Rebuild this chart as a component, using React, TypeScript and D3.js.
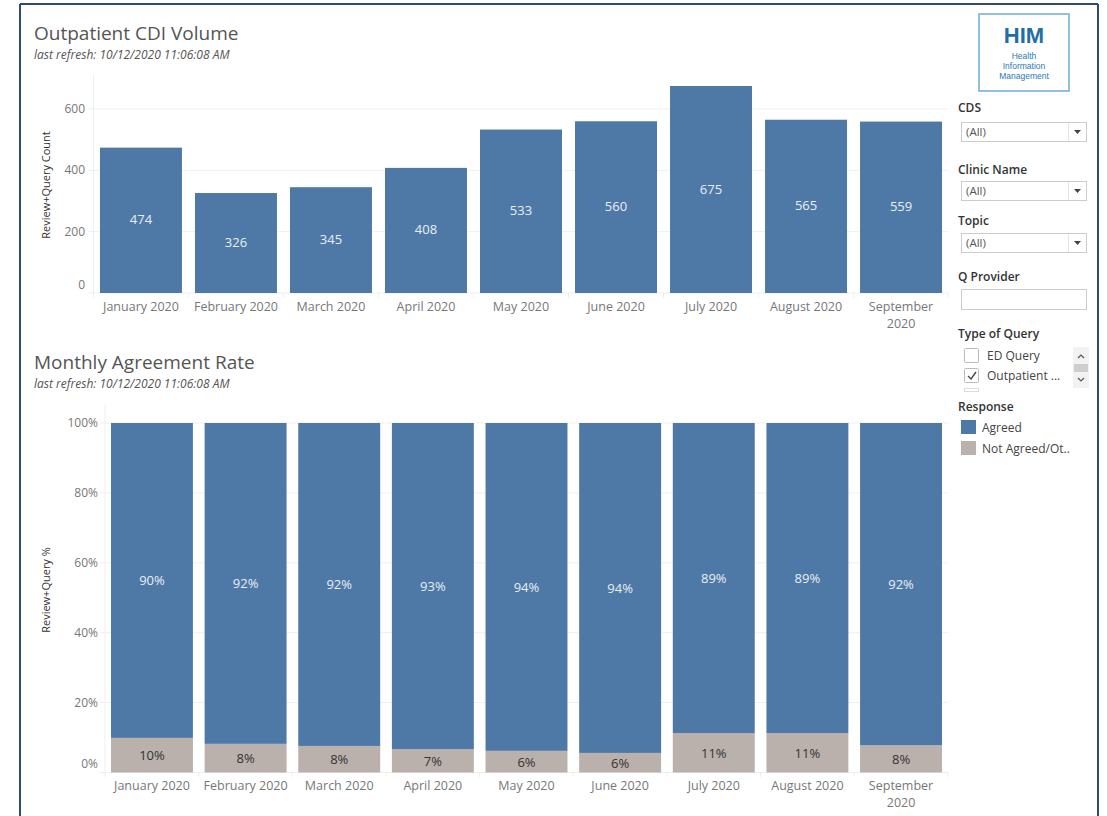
import React from "react";
import * as d3 from "d3";

const months = ["January 2020", "February 2020", "March 2020", "April 2020", "May 2020", "June 2020", "July 2020", "August 2020", "September 2020"];
const volume = [474, 326, 345, 408, 533, 560, 675, 565, 559];
const agreedPct = [90.1, 91.8, 92.4, 93.3, 93.8, 94.4, 88.7, 88.7, 92.2];
const notAgreedPct = [9.9, 8.2, 7.6, 6.7, 6.2, 5.6, 11.3, 11.3, 7.8];
const volumeTicks = [0, 200, 400, 600];
const pctTicks = [0, 20, 40, 60, 80, 100];
const filters = [
  { label: "CDS", value: "(All)" },
  { label: "Clinic Name", value: "(All)" },
  { label: "Topic", value: "(All)" },
];
const queryTypes = [
  { label: "ED Query", checked: false },
  { label: "Outpatient ...", checked: true },
];
const legendItems = ["Agreed", "Not Agreed/Ot.."];

const BLUE = "#4e79a7";
const GRAY = "#bab0ac";
const FONT = "'Open Sans', 'Noto Sans', sans-serif";
const TXT = "#555";
const TICK = "#777";
const GRID = "#efefef";

function wrapLabel(s: string): string[] {
  return s.startsWith("September") ? ["September", "2020"] : [s];
}

export default function App() {
  // Top chart
  const xTop = d3.scaleBand<string>().domain(months).range([93.5, 948.5]).paddingInner(0.137).paddingOuter(0.068);
  const yTop = d3.scaleLinear().domain([0, 600]).range([293, 109]);
  // Bottom chart
  const xBot = d3.scaleBand<string>().domain(months).range([105, 948]).paddingInner(0.125).paddingOuter(0.064);
  const yBot = d3.scaleLinear().domain([0, 100]).range([772.5, 423]);

  const stack = d3.stack<number>().keys(["na", "ag"]).value((i, k) => (k === "na" ? notAgreedPct[i] : agreedPct[i]));
  const series = stack(months.map((_, i) => i));

  const stepTop = xTop.step();
  const stepBot = xBot.step();

  return (
    <div style={{ position: "fixed", left: 0, top: 0 }}>
      <svg width={1107} height={816} style={{ display: "block", fontFamily: FONT }}>
        <rect x={0} y={0} width={1107} height={816} fill="#fff" />
        {/* frame */}
        <line x1={20} y1={4} x2={1098} y2={4} stroke="#2f4b6e" strokeWidth={2} />
        <line x1={20} y1={4} x2={20} y2={816} stroke="#2f4b6e" strokeWidth={2} />
        <line x1={1098} y1={4} x2={1098} y2={816} stroke="#2f4b6e" strokeWidth={2} />

        {/* Top title */}
        <text x={34} y={40} fontSize={19} fill={TXT}>Outpatient CDI Volume</text>
        <text x={34} y={59} fontSize={12} fontStyle="italic" fill={TXT}>last refresh: 10/12/2020 11:06:08 AM</text>

        {/* Top gridlines */}
        {volumeTicks.map((t) => (
          <g key={"vt" + t}>
            <line x1={88} x2={948.5} y1={yTop(t)} y2={yTop(t)} stroke={GRID} />
            <text x={85} y={t === 0 ? yTop(t) - 4 : yTop(t) + 4} textAnchor="end" fontSize={12} fill={TICK}>{t}</text>
          </g>
        ))}
        <line x1={93.5} x2={93.5} y1={75} y2={298} stroke={GRID} />
        {months.map((m, i) => (
          <line key={"tt" + m} x1={93.5 + stepTop * (i + 1)} x2={93.5 + stepTop * (i + 1)} y1={293} y2={298} stroke={GRID} />
        ))}
        <text transform={`translate(50,185) rotate(-90)`} textAnchor="middle" fontSize={11} fill="#333">Review+Query Count</text>
        {months.map((m, i) => (
          <g key={"vb" + m}>
            <rect x={xTop(m)} y={yTop(volume[i])} width={xTop.bandwidth()} height={yTop(0) - yTop(volume[i])} fill={BLUE} />
            <text x={xTop(m)! + xTop.bandwidth() / 2} y={(yTop(volume[i]) + yTop(0)) / 2 + 4} textAnchor="middle" fontSize={13} fill="#e9eef4">{volume[i]}</text>
            {wrapLabel(m).map((l, j) => (
              <text key={j} x={xTop(m)! + xTop.bandwidth() / 2} y={311 + j * 17} textAnchor="middle" fontSize={12.5} fill={TICK}>{l}</text>
            ))}
          </g>
        ))}

        {/* Bottom title */}
        <text x={34} y={369} fontSize={19} fill={TXT}>Monthly Agreement Rate</text>
        <text x={34} y={388} fontSize={12} fontStyle="italic" fill={TXT}>last refresh: 10/12/2020 11:06:08 AM</text>

        {pctTicks.map((t) => (
          <g key={"pt" + t}>
            <line x1={100} x2={948} y1={yBot(t)} y2={yBot(t)} stroke={GRID} />
            <text x={98} y={t === 0 ? yBot(t) - 5 : yBot(t) + 4} textAnchor="end" fontSize={12} fill={TICK}>{t}%</text>
          </g>
        ))}
        <line x1={105} x2={105} y1={405} y2={777} stroke={GRID} />
        {months.map((m, i) => (
          <line key={"bt" + m} x1={105 + stepBot * (i + 1)} x2={105 + stepBot * (i + 1)} y1={772.5} y2={777} stroke={GRID} />
        ))}
        <text transform={`translate(50,590) rotate(-90)`} textAnchor="middle" fontSize={11} fill="#333">Review+Query %</text>
        {series.map((s) => (
          <g key={s.key}>
            {s.map((d, i) => {
              const m = months[i];
              const y0 = yBot(d[0]);
              const y1 = yBot(d[1]);
              const val = s.key === "ag" ? agreedPct[i] : notAgreedPct[i];
              return (
                <g key={m}>
                  <rect x={xBot(m)} y={y1} width={xBot.bandwidth()} height={y0 - y1} fill={s.key === "ag" ? BLUE : GRAY} />
                  <text x={xBot(m)! + xBot.bandwidth() / 2} y={(y0 + y1) / 2 + 5} textAnchor="middle" fontSize={13} fill={s.key === "ag" ? "#e9eef4" : "#333"}>{Math.round(val)}%</text>
                </g>
              );
            })}
          </g>
        ))}
        {months.map((m) => (
          <g key={"bl" + m}>
            {wrapLabel(m).map((l, j) => (
              <text key={j} x={xBot(m)! + xBot.bandwidth() / 2} y={790 + j * 17} textAnchor="middle" fontSize={12.5} fill={TICK}>{l}</text>
            ))}
          </g>
        ))}

        {/* Right panel: logo */}
        <rect x={979} y={14} width={90} height={77} fill="#fff" stroke="#6aaed6" strokeWidth={1.5} />
        <text x={1024} y={43} textAnchor="middle" fontSize={22} fontWeight="bold" fill="#1f6fa6" fontFamily="'Liberation Sans', Arial, sans-serif">HIM</text>
        <text x={1024} y={59} textAnchor="middle" fontSize={8.5} fill="#2a7ab5" fontFamily="'Liberation Sans', Arial, sans-serif">Health</text>
        <text x={1024} y={69} textAnchor="middle" fontSize={8.5} fill="#2a7ab5" fontFamily="'Liberation Sans', Arial, sans-serif">Information</text>
        <text x={1024} y={79} textAnchor="middle" fontSize={8.5} fill="#2a7ab5" fontFamily="'Liberation Sans', Arial, sans-serif">Management</text>

        {filters.map((f, i) => {
          const ly = [112, 174, 225][i];
          const by = [122, 181, 233][i];
          return (
            <g key={f.label}>
              <text x={958} y={ly} fontSize={12} fontWeight={600} fill="#333">{f.label}</text>
              <rect x={961.5} y={by + 0.5} width={125} height={19} fill="#fff" stroke="#ccc" />
              <line x1={1068.5} x2={1068.5} y1={by + 1} y2={by + 19} stroke="#e3e3e3" />
              <text x={966} y={by + 14} fontSize={11.5} fill="#555">{f.value}</text>
              <path d={`M1074,${by + 8} L1081,${by + 8} L1077.5,${by + 12} Z`} fill="#444" />
            </g>
          );
        })}
        <text x={958} y={281} fontSize={12} fontWeight={600} fill="#333">Q Provider</text>
        <rect x={961.5} y={289.5} width={125} height={20} fill="#fff" stroke="#ccc" />

        <text x={958} y={338} fontSize={12} fontWeight={600} fill="#333">Type of Query</text>
        {queryTypes.map((q, i) => {
          const cy = 348 + i * 20;
          return (
            <g key={q.label}>
              <rect x={964.5} y={cy + 0.5} width={14} height={14} fill="#fff" stroke="#bbb" rx={1} />
              {q.checked && <path d={`M968,${cy + 8} L971,${cy + 11} L976,${cy + 4}`} fill="none" stroke="#444" strokeWidth={1.3} />}
              <text x={987} y={cy + 12} fontSize={12} fill="#444">{q.label}</text>
            </g>
          );
        })}
        <rect x={964.5} y={388.5} width={14} height={3} fill="#fff" stroke="#ddd" />
        <rect x={1073} y={347} width={16} height={41} fill="#f2f2f2" />
        <rect x={1074} y={364} width={14} height={8} fill="#cdcdcd" />
        <path d="M1078,358 L1081,355 L1084,358" fill="none" stroke="#555" strokeWidth={1.2} />
        <path d="M1078,378 L1081,381 L1084,378" fill="none" stroke="#555" strokeWidth={1.2} />

        <text x={958} y={411} fontSize={12} fontWeight={600} fill="#333">Response</text>
        {legendItems.map((l, i) => (
          <g key={l}>
            <rect x={961} y={420 + i * 21} width={15} height={14} fill={i === 0 ? BLUE : GRAY} />
            <text x={982} y={432 + i * 21} fontSize={12} fill="#444">{l}</text>
          </g>
        ))}
      </svg>
    </div>
  );
}
